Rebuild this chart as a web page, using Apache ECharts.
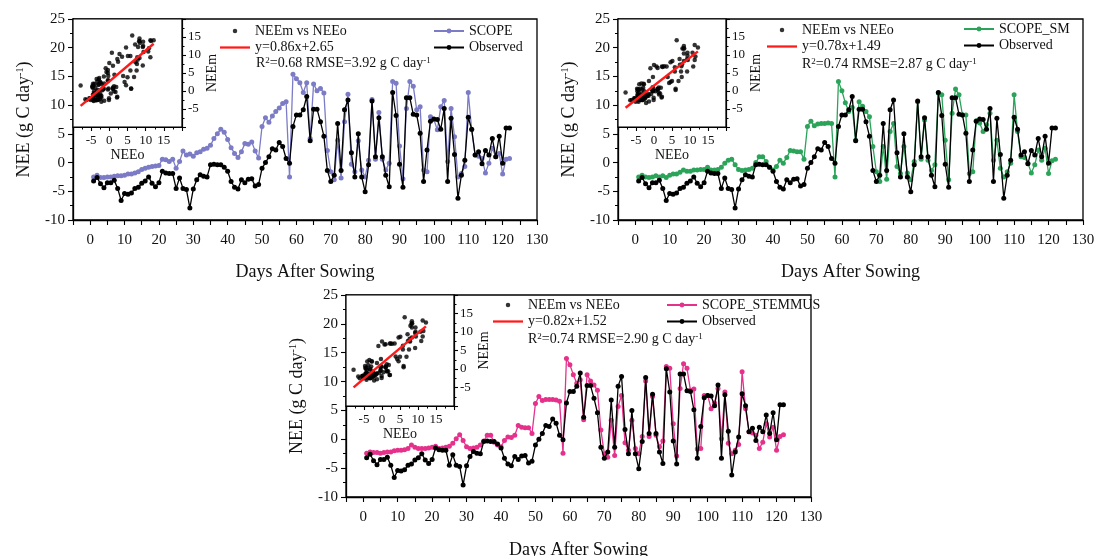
<!DOCTYPE html>
<html>
<head>
<meta charset="utf-8">
<title>NEE simulated vs observed</title>
<script src="https://cdn.jsdelivr.net/npm/echarts@6/dist/echarts.min.js"></script>
<style>
  html, body { margin: 0; padding: 0; background: #fff; }
  #chart { width: 1094px; height: 556px; }
</style>
</head>
<body>
<div id="chart"></div>
<script>
// Daily net ecosystem exchange (g C day-1), day 1 .. day 122 after sowing
const firstDay = 1;

const observed = [
  -3.2, -2.6, -3.7, -4.4, -3.5, -3.5, -3.1, -4.5, -6.6, -5.4,
  -5.5, -5.3, -4.5, -4.3, -3.6, -3.2, -2.5, -3.6, -4.2, -3.5,
  -1.5, -1.8, -1.9, -1.9, -4.5, -2.7, -4.5, -4.7, -7.9, -4.6,
  -3.0, -2.1, -2.4, -2.5, -0.4, -0.3, -0.4, -0.4, -0.8, -1.5,
  -3.3, -4.3, -4.6, -3.0, -3.5, -2.9, -2.8, -4.1, -3.8, -1.0,
   0.0,  1.0,  2.4,  2.2,  3.5,  2.8,  0.7, -0.1,  6.3,  8.3,
   8.3,  9.2, 11.5,  3.8,  9.3,  9.3,  7.1,  4.6, -1.4, -3.3,
  -2.2,  6.8, -1.4,  9.2, 10.9,  1.7, -2.5,  5.0, -2.5, -5.1,
  -0.4, 10.7,  1.0,  7.8,  1.0, -2.2, -4.2, 12.2,  8.2, -0.3,
  -4.3, 11.3, 11.3,  8.4,  8.3,  5.1, -3.3,  2.2,  7.2,  7.6,
   7.5,  5.8,  9.4, -3.3,  7.7,  1.4, -6.2, -2.2,  0.4,  7.9,
   5.8,  1.3,  1.9, -0.2,  2.1,  1.3,  4.2,  1.0,  4.6, -0.1,
   6.0,  6.0
];

const scope = [
  -2.5, -2.2, -2.6, -2.6, -2.5, -2.5, -2.4, -2.3, -2.3, -2.2,
  -2.0, -2.0, -1.8, -1.6, -1.2, -1.0, -0.8, -0.7, -0.6, -0.5,
   0.6,  0.5,  0.2,  0.6, -1.0,  0.2,  2.0,  1.3,  1.5,  1.1,
   1.7,  1.9,  2.3,  2.5,  3.0,  4.2,  5.0,  5.8,  5.3,  4.0,
   2.6,  1.6,  0.9,  1.9,  3.3,  3.2,  3.6,  2.0,  0.8,  6.3,
   7.8,  7.0,  8.1,  8.9,  9.5, 10.3, 10.6, -2.5, 15.4, 14.6,
  13.9, 12.2, 13.9,  4.2, 13.7, 12.5, 12.9, 12.1,  2.1, -1.6,
  -3.0,  3.9, -2.7,  7.1, 11.9, -0.3, -1.6,  3.8, -1.3, -2.5,
   0.4, 11.0,  0.6,  8.7,  0.6, -1.3, -0.1, 14.1, 13.8,  2.9,
  -2.8,  9.4, 14.1, 13.3,  9.2,  9.7, -1.3, -1.6,  8.0,  7.5,
   5.7,  9.7, 10.8,  0.2,  9.4,  4.5, -2.5, -1.9, -0.7, 12.2,
   5.7,  1.3,  1.1,  0.7, -1.8, -0.1,  2.5,  1.0,  1.6, -2.0,
   0.6,  0.7
];

const scopeSM = [
  -2.5, -2.2, -2.5, -2.6, -2.5, -2.3, -2.5, -2.3, -2.6, -2.2,
  -2.0, -2.0, -1.7, -1.3, -1.5, -1.5, -1.3, -1.3, -1.2, -1.2,
  -0.8, -1.3, -1.3, -1.2, -0.8, -0.1,  0.4,  0.6, -0.4, -1.2,
  -1.4, -1.3, -1.2, -1.0,  0.0,  1.0,  1.0,  0.2, -0.8, -1.3,
  -0.7,  0.4, -0.1,  0.9,  2.1,  2.0,  1.9,  1.9,  0.6,  6.3,
   7.2,  6.4,  6.7,  6.8,  6.8,  6.9,  6.8, -2.5, 14.1, 12.5,
  10.4,  8.9,  9.6,  3.9, 10.6,  9.8,  8.9,  8.0,  2.8, -1.6,
  -3.3,  2.8, -2.9,  5.4,  6.8, -0.7, -1.9,  2.8, -1.8, -3.0,
   0.2, 10.6,  0.6,  7.4,  0.4, -1.4, -0.4, 12.1, 11.8,  3.9,
  -3.0,  8.6, 12.8, 11.8,  8.3,  8.3, -1.9, -1.6,  7.3,  6.9,
   5.4,  6.6,  8.6,  0.4,  3.9, -1.0, -2.5, -1.6, -0.1, 11.8,
   5.4,  1.0,  0.9, -0.1, -1.8, -0.4,  2.2,  0.4,  2.5, -1.9,
   0.3,  0.6
];

const scopeSTEMMUS = [
  -2.4, -2.2, -2.3, -2.3, -2.4, -2.3, -2.2, -2.2, -2.0, -1.9,
  -1.9, -1.8, -1.6, -1.0, -1.4, -1.6, -1.6, -1.6, -1.5, -1.4,
  -1.2, -1.6, -1.5, -1.4, -1.2, -0.7,  0.1,  0.8, -0.2, -1.3,
  -1.6, -1.5, -1.4, -1.0, -0.3,  0.7,  0.7, -0.5, -1.0, -1.3,
  -0.2,  0.4,  0.3,  0.7,  2.4,  2.1,  2.0,  2.0,  1.0,  6.2,
   7.4,  6.7,  6.9,  6.9,  6.9,  6.8,  6.6, -2.4, 14.0, 12.9,
  11.2,  9.7, 10.3,  3.4, 11.2, 10.1,  9.4,  8.5,  1.6, -2.5,
  -3.1,  3.3, -2.8,  5.7,  7.6, -0.6, -1.9,  3.3, -1.6, -2.5,
   0.5, 10.1,  0.5,  7.4,  0.7, -1.3, -0.3, 12.6, 12.3,  2.7,
  -2.9,  8.8, 13.1, 12.3,  8.5,  8.7, -1.7, -1.6,  7.6,  7.6,
   5.3,  6.3,  8.8,  0.1,  8.2, -0.7, -2.5, -1.9, -0.9, 11.7,
   5.3,  1.3,  1.1,  0.7, -1.6, -0.5,  2.7,  0.4,  2.1, -1.9,
   0.5,  0.8
];

// Model names, fitted regression of NEEm on NEEo and error statistics
const modelNames = ['SCOPE', 'SCOPE_SM', 'SCOPE_STEMMUS'];
const modelColors = ['#7b7bc6', '#2ba45a', '#e5318b'];
const fitSlopes = [0.86, 0.78, 0.82];
const fitIntercepts = [2.65, 1.49, 1.52];
const r2Values = ['0.68', '0.74', '0.74'];
const rmseValues = ['3.92', '2.87', '2.90'];
const modelSeries = [scope, scopeSM, scopeSTEMMUS];

const FONT = '"Liberation Serif", "Times New Roman", serif';
const INK = '#111';
const FIT_RED = '#ff1a1a';

// Panel boxes in page pixels: main plot, inset, legends and statistics line
const layouts = [
  { main: { left: 73, top: 19, width: 464, height: 201 },
    inset: { left: 73, top: 19, width: 109, height: 108 },
    fitLegend: { left: 220, top: 24 }, lineLegend: { left: 433, top: 24 },
    stats: { x: 256, y: 56 }, xNameGap: 43 },
  { main: { left: 618, top: 19, width: 465, height: 201 },
    inset: { left: 618, top: 19, width: 108, height: 108 },
    fitLegend: { left: 767, top: 23 }, lineLegend: { left: 963, top: 22 },
    stats: { x: 802, y: 57 }, xNameGap: 43 },
  { main: { left: 346, top: 295, width: 465, height: 202 },
    inset: { left: 346, top: 295, width: 108, height: 111 },
    fitLegend: { left: 493, top: 298 }, lineLegend: { left: 666, top: 298 },
    stats: { x: 528, y: 332 }, xNameGap: 44 }
];

const option = {
  animation: false,
  backgroundColor: '#fff',
  textStyle: { fontFamily: FONT, color: INK },
  grid: [], xAxis: [], yAxis: [], series: [], legend: [], graphic: []
};

function tickStyle(len) {
  return { show: true, length: len, lineStyle: { color: '#000', width: 1.1 } };
}

layouts.forEach((lay, p) => {
  const model = modelSeries[p];
  const name = modelNames[p];
  const color = modelColors[p];
  const gMain = option.grid.length;
  const gInset = gMain + 1;

  option.grid.push(Object.assign({ show: true, borderColor: '#000', borderWidth: 1.3,
    backgroundColor: 'transparent', containLabel: false, outerBoundsMode: 'none' }, lay.main));
  option.grid.push(Object.assign({ show: true, borderColor: '#000', borderWidth: 1.2,
    backgroundColor: '#fff', containLabel: false, outerBoundsMode: 'none', z: 3 }, lay.inset));

  // Main time axis
  option.xAxis.push({
    gridIndex: gMain, type: 'value', min: -5, max: 130, interval: 5,
    axisLine: { show: true, onZero: false, lineStyle: { color: '#000', width: 1.3 } },
    axisTick: tickStyle(5),
    axisLabel: { formatter: v => (v % 10 === 0 ? String(v) : ''), fontSize: 15,
      color: INK, fontFamily: FONT, margin: 13, showMinLabel: true, showMaxLabel: true },
    splitLine: { show: false },
    name: 'Days After Sowing', nameLocation: 'middle', nameGap: lay.xNameGap,
    nameTextStyle: { fontSize: 18, color: INK, fontFamily: FONT }
  });
  option.yAxis.push({
    gridIndex: gMain, type: 'value', min: -10, max: 25, interval: 5,
    axisLine: { show: true, onZero: false, lineStyle: { color: '#000', width: 1.3 } },
    axisTick: tickStyle(5),
    minorTick: { show: true, splitNumber: 2, length: 3, lineStyle: { color: '#000', width: 1 } },
    axisLabel: { fontSize: 15, color: INK, fontFamily: FONT, margin: 8 },
    splitLine: { show: false },
    name: 'NEE (g C day{sup|-1})', nameLocation: 'middle', nameGap: 40, nameRotate: 90,
    nameTextStyle: { fontSize: 18, color: INK, fontFamily: FONT,
      rich: { sup: { fontSize: 10, verticalAlign: 'top', fontFamily: FONT, color: INK } } }
  });

  // Inset scatter axes: NEEo (x) against NEEm (y)
  option.xAxis.push({
    gridIndex: gInset, type: 'value', min: -10, max: 20, interval: 5, z: 4,
    axisLine: { show: true, onZero: false, lineStyle: { color: '#000', width: 1.2 } },
    axisTick: tickStyle(4),
    minorTick: { show: true, splitNumber: 2, length: 2.5, lineStyle: { color: '#000', width: 1 } },
    axisLabel: { formatter: v => (v > -10 && v < 20 ? String(v) : ''), fontSize: 13,
      color: INK, fontFamily: FONT, margin: 7 },
    splitLine: { show: false },
    name: 'NEEo', nameLocation: 'middle', nameGap: 21,
    nameTextStyle: { fontSize: 14, color: INK, fontFamily: FONT }
  });
  option.yAxis.push({
    gridIndex: gInset, type: 'value', position: 'right', min: -10, max: 20, interval: 5, z: 4,
    axisLine: { show: true, onZero: false, lineStyle: { color: '#000', width: 1.2 } },
    axisTick: tickStyle(4),
    minorTick: { show: true, splitNumber: 2, length: 2.5, lineStyle: { color: '#000', width: 1 } },
    axisLabel: { formatter: v => (v > -10 && v < 20 ? String(v) : ''), fontSize: 13,
      color: INK, fontFamily: FONT, margin: 6 },
    splitLine: { show: false },
    name: 'NEEm', nameLocation: 'middle', nameGap: 17, nameRotate: 90,
    nameTextStyle: { fontSize: 14, color: INK, fontFamily: FONT, verticalAlign: 'top' }
  });

  const xMain = option.xAxis.length - 2, yMain = option.yAxis.length - 2;
  const xIn = xMain + 1, yIn = yMain + 1;

  option.series.push({
    type: 'line', name: name, xAxisIndex: xMain, yAxisIndex: yMain,
    data: model.map((v, i) => [firstDay + i, v]),
    symbol: 'circle', symbolSize: 5, showAllSymbol: true,
    lineStyle: { color: color, width: 1.3 }, itemStyle: { color: color }, z: 2
  });
  option.series.push({
    type: 'line', name: 'Observed', xAxisIndex: xMain, yAxisIndex: yMain,
    data: observed.map((v, i) => [firstDay + i, v]),
    symbol: 'circle', symbolSize: 5, showAllSymbol: true,
    lineStyle: { color: '#000', width: 1.3 }, itemStyle: { color: '#000' }, z: 3
  });

  option.series.push({
    type: 'scatter', name: 'NEEm vs NEEo', xAxisIndex: xIn, yAxisIndex: yIn,
    data: observed.map((o, i) => [o, model[i]]),
    symbol: 'circle', symbolSize: 4.5, itemStyle: { color: '#000' }, z: 5
  });

  const xLo = Math.min(...observed), xHi = Math.max(...observed);
  const fitName = 'y=' + fitSlopes[p].toFixed(2) + 'x+' + fitIntercepts[p].toFixed(2);
  option.series.push({
    type: 'line', name: fitName, xAxisIndex: xIn, yAxisIndex: yIn,
    data: [[xLo, fitSlopes[p] * xLo + fitIntercepts[p]], [xHi, fitSlopes[p] * xHi + fitIntercepts[p]]],
    symbol: 'none', lineStyle: { color: FIT_RED, width: 2.5 }, itemStyle: { color: FIT_RED }, z: 6
  });

  // Scatter / fit key: small dot and a plain red bar
  option.legend.push({
    orient: 'vertical', left: lay.fitLegend.left, top: lay.fitLegend.top, padding: 0,
    itemWidth: 30, itemHeight: 4.5, itemGap: 2.5, selectedMode: false,
    textStyle: { fontSize: 14, color: INK, fontFamily: FONT },
    data: [
      { name: 'NEEm vs NEEo', icon: 'circle' },
      { name: fitName, icon: 'path://M0,0 L40,0 L40,3 L0,3 Z', itemStyle: { color: FIT_RED } }
    ]
  });
  option.legend.push({
    orient: 'vertical', left: lay.lineLegend.left, top: lay.lineLegend.top, padding: 0,
    itemWidth: 30, itemHeight: 6, itemGap: 2.5, selectedMode: false,
    textStyle: { fontSize: 14, color: INK, fontFamily: FONT },
    data: [{ name: name }, { name: 'Observed' }]
  });

  option.graphic.push({
    type: 'text', left: lay.stats.x, top: lay.stats.y, z: 10,
    style: {
      text: 'R{sup|2}=' + r2Values[p] + ' RMSE=' + rmseValues[p] + ' g C day{sup|-1}',
      font: '14px ' + FONT, fill: INK,
      rich: { sup: { fontSize: 9, verticalAlign: 'top', fill: INK, fontFamily: FONT } }
    }
  });
});

const chart = echarts.init(document.getElementById('chart'), null, { renderer: 'canvas' });
chart.setOption(option);
</script>
</body>
</html>
